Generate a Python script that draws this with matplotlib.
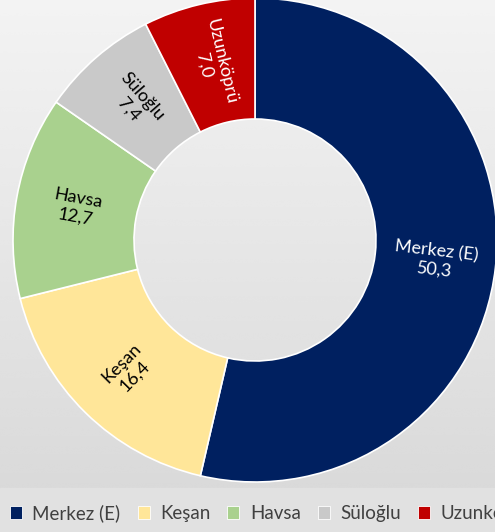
import numpy as np
import matplotlib
matplotlib.use("Agg")
from matplotlib import pyplot as plt
from matplotlib.patches import Patch

# district shares (%)
districts = ["Merkez (E)", "Keşan", "Havsa", "Süloğlu", "Uzunköprü"]
shares = [50.3, 16.4, 12.7, 7.4, 7.0]
colors = ["#002060", "#FFE699", "#A9D18E", "#C9C9C9", "#C00000"]
text_colors = ["white", "black", "black", "black", "white"]

plt.rcParams['font.family'] = ['Lato', 'DejaVu Sans']

fig = plt.figure(figsize=(4.95, 5.32), dpi=100)

# background: soft vertical gradient, flat band under the legend
bg = fig.add_axes([0, 0, 1, 1])
grad = np.linspace(0.955, 0.845, 256).reshape(-1, 1)
grad = np.hstack([grad, grad * 0.985 + 0.012])
bg.imshow(grad, cmap="gray", vmin=0, vmax=1, aspect="auto",
          extent=[0, 1, 0, 1], interpolation="bicubic")
bg.axhspan(0, 44 / 532, color="#E1E1E1")
bg.set_xlim(0, 1)
bg.set_ylim(0, 1)
bg.axis("off")

ax = fig.add_axes([13 / 495, 50 / 532, 484 / 495, 484 / 532])
wedges, _ = ax.pie(shares, colors=colors, startangle=90, counterclock=False,
                   radius=1.0,
                   wedgeprops=dict(width=0.5, edgecolor="white", linewidth=1.2))
ax.set_xlim(-1, 1)
ax.set_ylim(-1, 1)
ax.set_aspect("equal")
ax.axis("off")

# labels laid along the radial direction of each slice
for w, name, val, tc in zip(wedges, districts, shares, text_colors):
    mid = (w.theta1 + w.theta2) / 2
    r = 0.75
    x = r * np.cos(np.radians(mid))
    y = r * np.sin(np.radians(mid))
    rot = mid
    while rot > 90:
        rot -= 180
    while rot < -90:
        rot += 180
    ax.text(x, y, f"{name}\n{str(val).replace('.', ',')}", ha="center", va="center",
            rotation=rot, rotation_mode="anchor", color=tc, fontsize=13,
            linespacing=1.2)

# legend runs past the right edge, as in the original
handles = [Patch(facecolor=c, edgecolor="white", linewidth=0.6) for c in colors]
fig.legend(handles, districts, loc="center left", bbox_to_anchor=(10 / 495, 19 / 532),
           ncol=5, frameon=False, fontsize=13.5, handlelength=0.65,
           handleheight=0.65, handletextpad=0.55, columnspacing=0.9,
           borderpad=0, borderaxespad=0, labelcolor="#404040")

fig.savefig("out.png", dpi=100)
